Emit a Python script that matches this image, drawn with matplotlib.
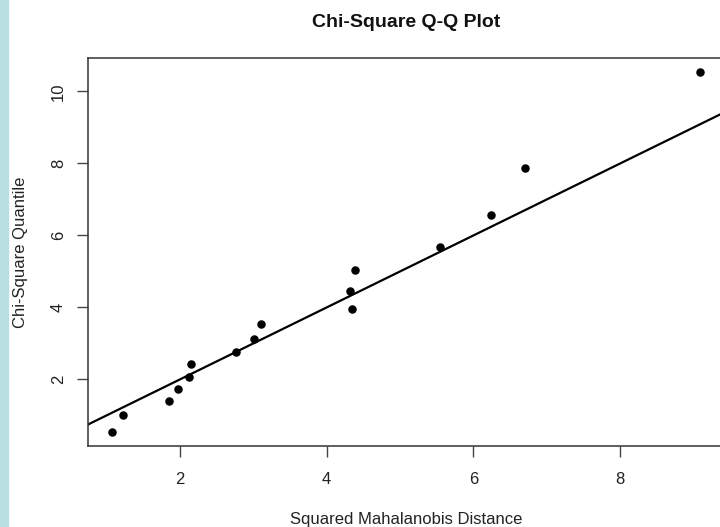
import numpy as np
import matplotlib.pyplot as plt
from matplotlib.patches import Rectangle

plt.rcParams['font.family'] = ['Liberation Sans', 'DejaVu Sans']

# squared Mahalanobis distances (sorted) and chi-square quantiles
d2 = [1.07, 1.23, 1.85, 1.98, 2.12, 2.15, 2.77, 3.01, 3.11,
      4.34, 4.32, 4.39, 5.55, 6.24, 6.70, 9.09]
q = [0.55, 1.01, 1.40, 1.74, 2.08, 2.44, 2.76, 3.12, 3.54,
     3.96, 4.46, 5.04, 5.69, 6.58, 7.88, 10.53]
xticks = [2, 4, 6, 8]
yticks = [2, 4, 6, 8, 10]

fig = plt.figure(figsize=(7.2, 5.27), dpi=100)
fig.patches.append(Rectangle((0, 0), 8 / 720, 1, transform=fig.transFigure,
                             color='#b9dfe3', zorder=0))

ax = fig.add_axes([88 / 720, 81 / 527, 636 / 720, 388 / 527])
ax.scatter(d2, q, s=26, color='black', zorder=3)
ax.axline((0, 0), slope=1, color='black', lw=1.6)

ax.set_xlim(0.747, 9.415)
ax.set_ylim(0.15, 10.93)
ax.set_xticks(xticks)
ax.set_yticks(yticks)
ax.tick_params(axis='both', length=8, width=1, color='#444444',
               labelsize=12, labelcolor='#222222')
ax.tick_params(axis='x', pad=11)
ax.tick_params(axis='y', pad=8, labelrotation=90)
for lab in ax.get_yticklabels():
    lab.set_va('center')
for s in ax.spines.values():
    s.set_color('#333333')
    s.set_linewidth(1.1)

ax.set_title('Chi-Square Q-Q Plot', fontsize=14, fontweight='bold',
             color='#111111', pad=22)
ax.set_xlabel('Squared Mahalanobis Distance', fontsize=12, color='#222222')
ax.set_ylabel('Chi-Square Quantile', fontsize=12, color='#222222')
ax.xaxis.set_label_coords(0.5, -0.17)
ax.yaxis.set_label_coords(-0.094, 0.5)

fig.savefig('out.png', dpi=100)
